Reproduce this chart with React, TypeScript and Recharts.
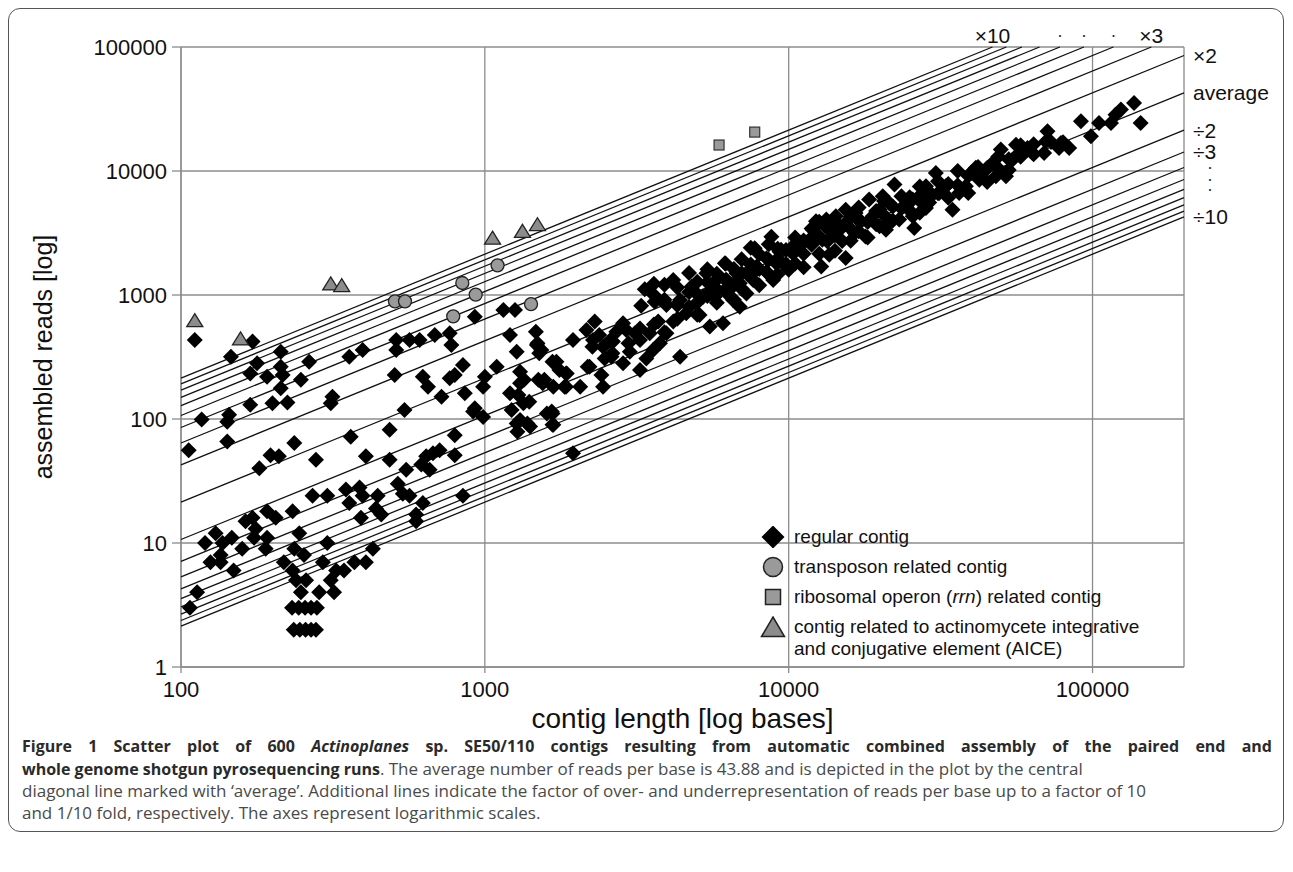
import React from 'react';
import { ScatterChart, Scatter, XAxis, YAxis, CartesianGrid, Label } from 'recharts';

// [contig length (bases), assembled reads]
const regularContigs: [number, number][] = [
  [111, 434], [146, 318], [172, 421], [178, 281], [169, 233], [192, 219], [213, 349], [213, 264], [216, 226], [213, 177],
  [200, 134], [224, 136], [169, 130], [117, 99], [142, 95], [144, 108], [142, 66], [106, 56], [181, 40], [197, 51],
  [210, 50], [236, 64], [248, 207], [264, 290], [278, 47], [311, 134], [315, 151], [358, 318], [396, 360], [362, 72],
  [406, 50], [486, 82], [486, 47], [511, 360], [505, 226], [511, 434], [544, 118], [565, 434], [610, 434], [625, 219],
  [650, 182], [684, 476], [720, 151], [766, 491], [776, 395], [766, 213], [796, 226], [847, 272], [859, 161], [927, 669],
  [915, 115], [987, 104], [927, 122], [987, 182], [1000, 219], [796, 74], [796, 51], [847, 24], [1151, 757], [1257, 757],
  [1210, 476], [1273, 349], [1094, 264], [1306, 241], [1290, 156], [1339, 134], [1273, 92], [1483, 395], [1500, 207], [1225, 118],
  [1306, 98], [1409, 87], [1210, 161], [1306, 194], [1600, 111],
  [107, 3], [113, 4], [125, 7], [130, 12], [120, 10], [135, 8], [137, 10], [135, 7], [147, 11], [149, 6],
  [159, 9], [163, 15], [172, 16], [176, 13], [174, 11], [190, 9], [192, 11], [192, 18], [205, 16], [218, 7],
  [233, 6], [233, 18], [236, 9], [245, 12], [239, 5], [254, 8], [258, 5], [248, 4], [271, 24], [303, 24],
  [285, 4], [303, 10], [293, 7], [311, 5], [319, 4], [324, 6], [344, 6], [349, 27], [358, 21], [387, 28],
  [396, 24], [391, 16], [372, 7], [406, 7], [428, 9], [444, 24], [438, 19], [456, 17], [517, 30], [537, 25],
  [565, 24], [551, 39], [594, 17], [594, 15], [625, 21], [618, 43], [641, 50], [658, 39], [675, 53], [710, 56],
  [232, 3], [244, 3], [256, 3], [268, 3], [280, 3], [235, 2], [246, 2], [257, 2], [268, 2], [278, 2],
  [1472, 506], [1490, 408], [1510, 339], [1346, 207], [1400, 138], [1380, 92], [1280, 79], [1670, 111], [1670, 90], [1550, 194],
  [1670, 290], [1760, 248], [1850, 233], [1850, 182], [2180, 264], [2380, 476], [2260, 383], [2590, 434], [2630, 339],
  [8770, 2953], [7730, 2378], [9330, 2236], [10300, 2454], [6170, 1800], [5360, 1496], [4170, 1322], [3360, 1112], [4790, 1167], [3620, 884],
  [3270, 820], [3960, 830], [4390, 911], [4970, 857], [5710, 970], [6240, 1132], [6900, 1242], [7640, 1322], [8450, 1542], [8890, 1322],
  [9820, 1692], [6900, 805], [6080, 591], [5500, 556], [5090, 690], [4600, 711], [4170, 610], [3720, 610], [3960, 491], [4390, 318],
  [3580, 360], [3240, 434], [3240, 538], [2920, 522], [2850, 591], [3000, 349], [2850, 281], [3240, 248], [2640, 421], [2610, 318],
  [2450, 383], [2480, 308], [2300, 610], [2160, 522], [2270, 434], [2210, 264], [2420, 226], [2450, 182], [2060, 182], [1950, 434],
  [1830, 182], [1860, 233], [1720, 290], [1680, 182], [1570, 207], [1535, 360], [1660, 115], [1680, 90], [1950, 53], [7840, 1692],
  [7260, 1496], [6730, 1496], [6240, 1322], [5780, 1322], [5570, 1097], [5230, 970], [7260, 1030], [6560, 911], [8450, 1977], [9100, 1800],
  [2710, 506], [3120, 491], [3490, 491], [3770, 408], [3400, 308], [2970, 408],
  [137000, 35300], [144000, 24400], [124000, 31300], [119000, 28400], [115000, 24400], [105000, 24400], [98800, 19050], [91600, 25200], [83800, 15300], [78700, 16800],
  [71100, 20900], [70200, 17300], [69300, 14000], [63500, 14000], [61100, 15300], [56000, 16300], [49900, 14900], [54500, 12300], [51900, 9060], [46900, 11600],
  [44600, 10300], [41300, 10600], [39800, 9630], [38300, 7520], [36400, 6650], [34600, 4880], [32900, 7520], [30500, 9630], [31300, 6650], [29400, 6260],
  [28300, 7520], [26900, 6260], [25600, 5880], [25900, 3470], [24300, 5190], [22300, 7770], [23100, 4060], [21400, 5520], [20400, 6260], [19900, 4880],
  [18900, 4310], [20900, 3360], [18400, 5880], [17300, 3930], [16600, 4580], [15400, 4880], [15200, 3690], [14300, 4310], [14100, 3070], [13300, 4060],
  [12300, 3930], [12000, 3360], [12900, 2790], [11700, 2790], [15400, 1990], [13600, 2110], [12800, 1700], [10800, 2470], [10300, 2180], [10000, 1600],
  [9440, 2320], [17900, 2970], [19900, 3580], [16500, 3160], [25600, 4310], [28300, 5040], [42400, 8520], [48100, 9060], [57400, 14000], [77600, 15300],
];
// overlapping diamonds inside the solid black band, positions estimated
const denseBandContigs: [number, number][] = [
  [3600, 1000], [3600, 577], [3600, 1230], [3900, 916], [3900, 500], [3900, 1208], [4300, 826], [4300, 1148], [4300, 643],
  [4700, 1053], [4700, 802], [4700, 1505], [5000, 1014], [5000, 1281], [5000, 694], [5400, 1268], [5400, 980], [5400, 1614],
  [5800, 1114], [5800, 1486], [5800, 867], [6200, 1324], [6200, 1787], [6200, 1059], [6600, 1620], [6600, 1198], [6600, 916],
  [7000, 1495], [7000, 1943], [7000, 1121], [7500, 1761], [7500, 1441], [7500, 2402], [8000, 1623], [8000, 2135], [8000, 1196],
  [8600, 1928], [8600, 1469], [8600, 2570], [9200, 1964], [9200, 2357], [9200, 1473], [9800, 2301], [9800, 1778],
  [10500, 2242], [10500, 2915], [10500, 1794], [11200, 2750], [11200, 2152], [11200, 1674], [11900, 2541], [11900, 3430],
  [12600, 2959], [12600, 2152], [12600, 3900], [13400, 2718], [13400, 3433], [14200, 3032], [14200, 3941], [14200, 2274],
  [15000, 3523], [15000, 2722], [16000, 3416], [16000, 4270], [16000, 2733], [17000, 3993], [17000, 3267], [17000, 5082],
  [18200, 3886], [18200, 2914], [19400, 4763], [19400, 3728], [20600, 4398], [20600, 5717], [20600, 3518], [22000, 5167],
  [22000, 3992], [23500, 5017], [23500, 6271], [25000, 4804], [25000, 6138], [27000, 5765], [27000, 7494], [27000, 4612],
  [29000, 6811], [29000, 5572], [31000, 6619], [31000, 8273], [33500, 7867], [33500, 6079], [36000, 7686], [36000, 9991],
  [39000, 9159], [39000, 6661], [42000, 8967], [42000, 10760], [45000, 10568], [45000, 8166], [49000, 10461], [49000, 13076],
  [53000, 12447], [53000, 10184], [58000, 13002], [58000, 16098], [64000, 13664], [64000, 16397], [73000, 17144], [80000, 17080],
];
const transposonContigs: [number, number][] = [[506, 889], [546, 889], [787, 673], [843, 1250], [933, 1007], [1101, 1734], [1419, 845]];
const rrnContigs: [number, number][] = [[5900, 16200], [7730, 20600]];
const aiceContigs: [number, number][] = [[111, 610], [157, 434], [311, 1205], [338, 1167], [1060, 2820], [1330, 3200], [1490, 3620]];

const xTicks = [100, 1000, 10000, 100000];
const yTicks = [1, 10, 100, 1000, 10000, 100000];
const xDomain: [number, number] = [100, 200000];
const yDomain: [number, number] = [1, 100000];

// reads per base along the 'average' diagonal
const averageReadsPerBase = 0.2135;
const lineFactors = [10, 9, 8, 7, 6, 5, 4, 3, 2, 1, 1 / 2, 1 / 3, 1 / 4, 1 / 5, 1 / 6, 1 / 7, 1 / 8, 1 / 9, 1 / 10];
const lineLabels = ['×10', '', '', '', '•', '•', '•', '×3', '×2', 'average', '÷2', '÷3', '•', '•', '•', '', '', '', '÷10'];

const FONT = '"Liberation Sans", Arial, Helvetica, sans-serif';
const GRID = '#8c8c8c';

const factorLines = lineFactors.map((f, i) => {
  const rate = averageReadsPerBase * f;
  const xEnd = Math.min(xDomain[1], yDomain[1] / rate);
  return {
    label: lineLabels[i],
    atTop: xEnd < xDomain[1],
    points: [
      { x: xDomain[0], y: xDomain[0] * rate },
      { x: xEnd, y: xEnd * rate },
    ],
  };
});
const labelPoints = factorLines.map((l) => ({ ...l.points[1], label: l.label, atTop: l.atTop }));

const toXY = (rows: [number, number][]) => rows.map(([x, y]) => ({ x, y }));

const Diamond = (p: any) => (
  <path d={`M${p.cx},${p.cy - 8}L${p.cx + 8},${p.cy}L${p.cx},${p.cy + 8}L${p.cx - 8},${p.cy}Z`} fill="#000" />
);
const Dot = (p: any) => <circle cx={p.cx} cy={p.cy} r={6.5} fill="#9a9a9a" stroke="#222" strokeWidth={1.3} />;
const Square = (p: any) => <rect x={p.cx - 5} y={p.cy - 5} width={10} height={10} fill="#9a9a9a" stroke="#333" strokeWidth={1.2} />;
const Triangle = (p: any) => (
  <path d={`M${p.cx},${p.cy - 8}L${p.cx + 8},${p.cy + 5}L${p.cx - 8},${p.cy + 5}Z`} fill="#8c8c8c" stroke="#222" strokeWidth={1.3} />
);
const Nothing = () => <g />;

const LineLabel = (p: any) => {
  const { cx, cy, payload } = p;
  if (!payload || !payload.label) return <g />;
  const dot = payload.label === '•';
  const style = { fontFamily: FONT, fontSize: dot ? 7 : 21, fill: '#111' };
  if (payload.atTop) {
    return (
      <text x={cx} y={cy - 12} textAnchor="middle" dominantBaseline="central" {...style}>
        {payload.label}
      </text>
    );
  }
  return (
    <text x={cx + (dot ? 26 : 9)} y={cy} textAnchor={dot ? 'middle' : 'start'} dominantBaseline="central" {...style}>
      {payload.label}
    </text>
  );
};

const legendRows = [
  { key: 'reg', icon: 'diamond', text: <>regular contig</> },
  { key: 'tra', icon: 'circle', text: <>transposon related contig</> },
  { key: 'rrn', icon: 'square', text: <>ribosomal operon (<i>rrn</i>) related contig</> },
  { key: 'aice', icon: 'triangle', text: <>contig related to actinomycete integrative<br />and conjugative element (AICE)</> },
];

const LegendIcon = ({ kind }: { kind: string }) => (
  <svg width={28} height={22} style={{ flex: 'none' }}>
    {kind === 'diamond' && <path d="M14,-0.5L25.5,11L14,22.5L2.5,11Z" fill="#000" />}
    {kind === 'circle' && <circle cx={14} cy={11} r={9.5} fill="#9a9a9a" stroke="#222" strokeWidth={1.5} />}
    {kind === 'square' && <rect x={6.5} y={3.5} width={15} height={15} fill="#9a9a9a" stroke="#222" strokeWidth={1.5} />}
    {kind === 'triangle' && <path d="M14,1L25.5,20.5L2.5,20.5Z" fill="#8c8c8c" stroke="#222" strokeWidth={1.5} />}
  </svg>
);

export default function App() {
  return (
    <div
      style={{
        position: 'relative',
        width: 1274,
        height: 822,
        border: '1px solid #555',
        borderRadius: 12,
        background: '#fff',
        fontFamily: FONT,
      }}
    >
      <div style={{ position: 'absolute', left: 0, top: 0 }}>
        <ScatterChart width={1270} height={745} margin={{ top: 38, right: 95, bottom: 37, left: 62 }}>
          <CartesianGrid stroke={GRID} strokeWidth={1.3} />
          <XAxis
            type="number"
            dataKey="x"
            scale="log"
            domain={xDomain}
            ticks={xTicks}
            interval={0}
            height={50}
            tickSize={6}
            tickMargin={8}
            stroke={GRID}
            strokeWidth={1.3}
            tickFormatter={(v: number) => String(v)}
            tick={{ fontSize: 22, fill: '#111', fontFamily: FONT }}
          >
            <Label
              content={(props: any) => {
                const vb = props.viewBox || { x: 172, y: 658, width: 1003, height: 50 };
                return (
                  <text x={vb.x + vb.width / 2} y={vb.y + 51} textAnchor="middle" dominantBaseline="central" fontSize={28} fontFamily={FONT} fill="#111">
                    contig length [log bases]
                  </text>
                );
              }}
            />
          </XAxis>
          <YAxis
            type="number"
            dataKey="y"
            scale="log"
            domain={yDomain}
            ticks={yTicks}
            interval={0}
            width={110}
            tickSize={9}
            tickMargin={5}
            stroke={GRID}
            strokeWidth={1.3}
            tickFormatter={(v: number) => String(v)}
            tick={{ fontSize: 22, fill: '#111', fontFamily: FONT }}
          >
            <Label
              content={(props: any) => {
                const vb = props.viewBox || { x: 62, y: 38, width: 110, height: 620 };
                const cx = vb.x - 28;
                const cy = vb.y + vb.height / 2;
                return (
                  <text x={cx} y={cy} transform={`rotate(-90 ${cx} ${cy})`} textAnchor="middle" dominantBaseline="central" fontSize={25} fontFamily={FONT} fill="#111">
                    assembled reads [log]
                  </text>
                );
              }}
            />
          </YAxis>
          {factorLines.map((l, i) => (
            <Scatter key={`f${i}`} data={l.points} line={{ stroke: '#111', strokeWidth: 1.3 }} shape={Nothing} isAnimationActive={false} />
          ))}
          <Scatter data={toXY(regularContigs)} shape={Diamond} isAnimationActive={false} />
          <Scatter data={toXY(denseBandContigs)} shape={Diamond} isAnimationActive={false} />
          <Scatter data={toXY(transposonContigs)} shape={Dot} isAnimationActive={false} />
          <Scatter data={toXY(rrnContigs)} shape={Square} isAnimationActive={false} />
          <Scatter data={toXY(aiceContigs)} shape={Triangle} isAnimationActive={false} />
          <Scatter data={labelPoints} shape={LineLabel} isAnimationActive={false} />
        </ScatterChart>
      </div>

      <div style={{ position: 'absolute', left: 750, top: 517, fontSize: 19, color: '#111', lineHeight: '22px' }}>
        {legendRows.map((r) => (
          <div key={r.key} style={{ display: 'flex', alignItems: 'flex-start', height: r.key === 'aice' ? 44 : 30 }}>
            <LegendIcon kind={r.icon} />
            <div style={{ marginLeft: 7, whiteSpace: 'nowrap' }}>{r.text}</div>
          </div>
        ))}
      </div>

      <div
        style={{
          position: 'absolute',
          left: 13,
          top: 727,
          fontFamily: '"Open Sans", sans-serif',
          fontSize: 17,
          lineHeight: '21.5px',
          color: '#4a4a4a',
          whiteSpace: 'nowrap',
        }}
      >
        <div style={{ width: 1250, textAlign: 'justify', textAlignLast: 'justify', fontSize: 16 }}>
          <b style={{ color: '#2a2a2a' }}>
            Figure 1 Scatter plot of 600 <i>Actinoplanes</i> sp. SE50/110 contigs resulting from automatic combined assembly of the paired end and
          </b>
        </div>
        <div>
          <b style={{ color: '#2a2a2a', fontSize: 16 }}>whole genome shotgun pyrosequencing runs</b>. The average number of reads per base is 43.88 and is depicted in the plot by the central
        </div>
        <div>
          diagonal line marked with ‘average’. Additional lines indicate the factor of over- and underrepresentation of reads per base up to a factor of 10
        </div>
        <div>and 1/10 fold, respectively. The axes represent logarithmic scales.</div>
      </div>
    </div>
  );
}
